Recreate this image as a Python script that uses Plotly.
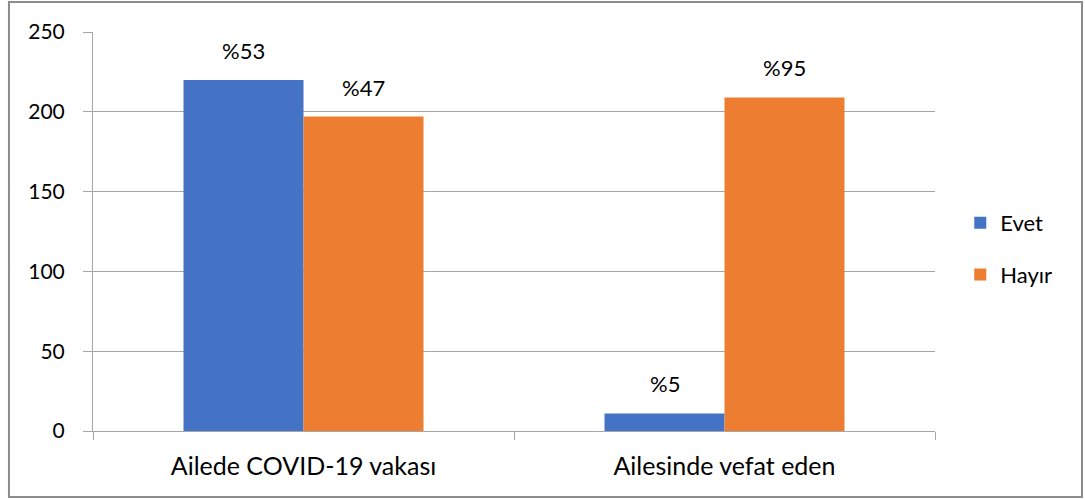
import plotly.graph_objects as go

categories = ["Ailede COVID-19 vakası", "Ailesinde vefat eden"]
evet_values = [220, 11]
hayir_values = [197, 209]
evet_labels = ["%53", "%5"]
hayir_labels = ["%47", "%95"]
y_ticks = [0, 50, 100, 150, 200, 250]

FONT = "Lato, 'Open Sans', sans-serif"
FS = 21

fig = go.Figure()
fig.add_trace(go.Bar(name="Evet", x=categories, y=evet_values, marker_color="#4472C4",
                     marker_line_width=0, legendgroup="a"))
fig.add_trace(go.Bar(name="Hayır", x=categories, y=hayir_values, marker_color="#ED7D31",
                     marker_line_width=0, legendgroup="b"))

# value labels above bars (pixel-shifted to each bar of the group)
for vals, labs, dx in [(evet_values, evet_labels, -60), (hayir_values, hayir_labels, 60)]:
    for c, v, t in zip(categories, vals, labs):
        fig.add_annotation(x=c, y=v, text=t, showarrow=False, xshift=dx, yshift=14,
                           yanchor="bottom", font=dict(size=22, color="#000", family=FONT))

fig.update_layout(
    width=1085, height=500,
    margin=dict(l=93, r=150, t=32, b=69),
    barmode="group", bargap=0.43, bargroupgap=0,
    plot_bgcolor="white", paper_bgcolor="white",
    font=dict(family=FONT, size=FS, color="#000"),
    showlegend=True,
    legend=dict(x=1.03, y=0.456, xanchor="left", yanchor="middle",
                font=dict(size=22), tracegroupgap=20,
                bgcolor="rgba(0,0,0,0)"),
    yaxis=dict(range=[0, 250], tickvals=y_ticks, showgrid=True, gridcolor="#A6A6A6",
               gridwidth=1, showline=True, linecolor="#A6A6A6", ticks="outside",
               ticklen=9, tickcolor="#A6A6A6", zeroline=False, tickfont=dict(size=FS),
               ticklabelstandoff=14),
    xaxis=dict(showline=True, linecolor="#A6A6A6", ticks="outside", ticklen=8,
               tickcolor="#A6A6A6", tickson="boundaries", tickfont=dict(size=25),
               ticklabelstandoff=13),
    shapes=[dict(type="rect", xref="paper", yref="paper",
                 x0=-0.0998, x1=1.1746, y0=-0.1654, y1=1.0752,
                 line=dict(color="#8C8C8C", width=2), fillcolor="rgba(0,0,0,0)", layer="below")],
)

fig.write_html("out.html", config={"displayModeBar": False},
               post_script="document.body.style.margin='0';")
